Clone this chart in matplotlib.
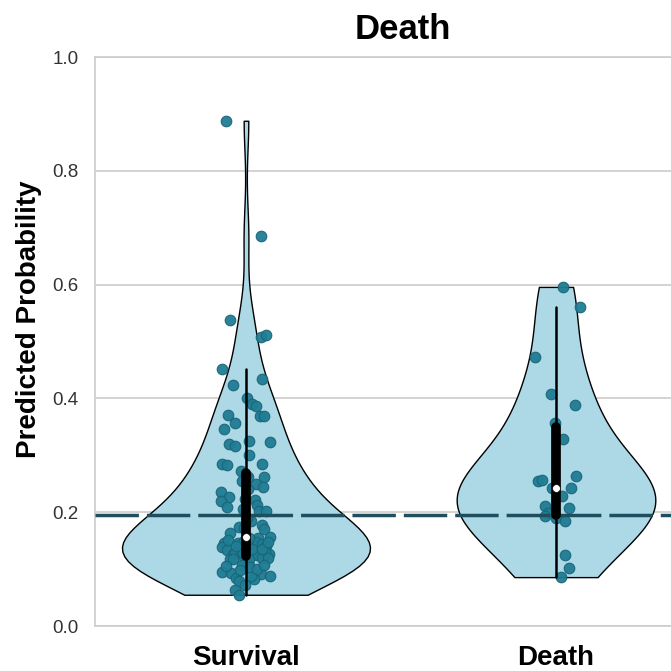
import matplotlib
matplotlib.use('Agg')
import matplotlib.pyplot as plt
import numpy as np
import pandas as pd
import seaborn as sns

# Groups shown on the x axis.
groups = ['Survival', 'Death']

# Predicted probabilities, with the horizontal jitter of each point.
survival_prob = [0.888, 0.685, 0.538, 0.508, 0.512, 0.451, 0.435, 0.423, 0.401, 0.390,
                 0.386, 0.369, 0.369, 0.371, 0.356, 0.347, 0.326, 0.324, 0.320, 0.316,
                 0.300, 0.285, 0.283, 0.284, 0.273, 0.262, 0.262, 0.255, 0.250, 0.245,
                 0.235, 0.226, 0.220, 0.224, 0.221, 0.213, 0.209, 0.202, 0.202, 0.184,
                 0.177, 0.171, 0.174, 0.163, 0.156, 0.154, 0.146, 0.139, 0.146, 0.148,
                 0.144, 0.141, 0.133, 0.126, 0.128, 0.131, 0.126, 0.125, 0.130, 0.118,
                 0.117, 0.119, 0.119, 0.111, 0.114, 0.095, 0.093, 0.091, 0.088, 0.083,
                 0.088, 0.084, 0.080, 0.064, 0.055,
                 0.122, 0.118, 0.108, 0.104, 0.098, 0.100, 0.105, 0.108, 0.072,
                 0.150, 0.140, 0.136, 0.132, 0.152, 0.136, 0.155, 0.128, 0.148, 0.140,
                 0.172, 0.190, 0.205, 0.240, 0.265]
survival_jitter = [-0.066, 0.050, -0.052, 0.050, 0.065, -0.078, 0.052, -0.042, 0.003, 0.021,
                   0.031, 0.045, 0.058, -0.058, -0.037, -0.071, 0.011, 0.077, -0.055, -0.035,
                   0.010, -0.077, -0.061, 0.052, -0.016, 0.006, 0.057, -0.013, 0.031, 0.054,
                   -0.081, -0.056, -0.081, -0.003, 0.029, 0.037, -0.062, 0.042, 0.065, 0.016,
                   0.052, 0.058, -0.021, -0.052, 0.077, 0.040, -0.071, -0.076, -0.027, 0.032,
                   0.052, 0.065, -0.061, -0.042, -0.035, 0.042, 0.073, 0.035, 0.061, -0.052,
                   -0.042, 0.052, 0.071, 0.008, 0.000, -0.078, -0.047, 0.048, 0.077, 0.025,
                   0.016, -0.032, -0.023, -0.037, -0.023,
                   -0.006, 0.010, -0.013, 0.013, -0.019, 0.035, -0.065, 0.058, -0.003,
                   -0.006, 0.006, 0.019, -0.016, -0.058, 0.052, 0.010, -0.010, 0.071, -0.032,
                   -0.006, 0.003, -0.010, 0.006, 0.000]
death_prob = [0.596, 0.560, 0.472, 0.408, 0.388, 0.356, 0.328, 0.264, 0.255, 0.256,
              0.243, 0.243, 0.229, 0.211, 0.208, 0.198, 0.194, 0.190, 0.184, 0.125,
              0.102, 0.086]
death_jitter = [0.022, 0.076, -0.069, -0.016, 0.060, -0.003, 0.023, 0.065, -0.058, -0.046,
                0.048, -0.013, 0.020, -0.037, 0.042, -0.027, -0.034, 0.000, 0.029, 0.029,
                0.042, 0.016]

# Reference level drawn as the dashed line.
baseline = 0.195

df = pd.DataFrame({
    'group': ['Survival'] * len(survival_prob) + ['Death'] * len(death_prob),
    'prob': survival_prob + death_prob,
})

sns.set_style('whitegrid')
plt.rcParams['font.family'] = ['Liberation Sans', 'DejaVu Sans']

fig = plt.figure(figsize=(6.71, 6.71), dpi=100)
ax = fig.add_axes([0.1416, 0.067, 0.918, 0.848])

sns.violinplot(data=df, x='group', y='prob', order=groups, cut=0, inner=None,
               density_norm='area', color='#add8e6', saturation=1,
               linecolor='black', linewidth=1.0, ax=ax, zorder=1)

# Jittered points.
point_sets = [(survival_prob, survival_jitter), (death_prob, death_jitter)]
for i, (vals, jit) in enumerate(point_sets):
    ax.scatter(i + np.array(jit), vals, s=58, color='#1f7d94', edgecolor='#1a6578',
               linewidth=0.8, alpha=0.95, zorder=3)

# Reference line.
ax.axhline(baseline, color='#1d4f5e', linewidth=2.5, dashes=(12.5, 2.3), zorder=4)

# Inner box: whiskers, interquartile bar and median dot.
for i, vals in enumerate([survival_prob, death_prob]):
    v = np.array(vals)
    q25, q50, q75 = np.percentile(v, [25, 50, 75])
    lim = 1.5 * (q75 - q25)
    lo = v[v >= q25 - lim].min()
    hi = v[v <= q75 + lim].max()
    ax.plot([i, i], [lo, hi], color='black', linewidth=1.8, zorder=5)
    ax.plot([i, i], [q25, q75], color='black', linewidth=7, solid_capstyle='round', zorder=5)
    ax.scatter([i], [q50], s=32, color='white', edgecolor='black', linewidth=0.5, zorder=6)

ax.set_xlim(-0.487, 1.5)
ax.set_ylim(0, 1.0)
ax.set_yticks(np.arange(0, 1.01, 0.2))
ax.set_yticklabels(['{:.1f}'.format(t) for t in np.arange(0, 1.01, 0.2)])
ax.grid(axis='x', visible=False)
ax.grid(axis='y', color='#cccccc', linewidth=1.2)
for sp in ax.spines.values():
    sp.set_color('#cccccc')
    sp.set_linewidth(1.2)

ax.set_xlabel('')
ax.set_ylabel('Predicted Probability', fontsize=20, fontweight='bold', color='black')
ax.yaxis.set_label_coords(-0.086, 0.54)
ax.set_title('Death', fontsize=25, fontweight='bold', color='black', pad=13,
             x=(403 - 95) / 616)
ax.tick_params(axis='x', labelsize=20, pad=14, length=0, labelcolor='black')
ax.tick_params(axis='y', labelsize=13.5, labelcolor='#333333', length=0, pad=12)
for lab in ax.get_xticklabels():
    lab.set_fontweight('bold')

fig.savefig('out.png', dpi=100)
